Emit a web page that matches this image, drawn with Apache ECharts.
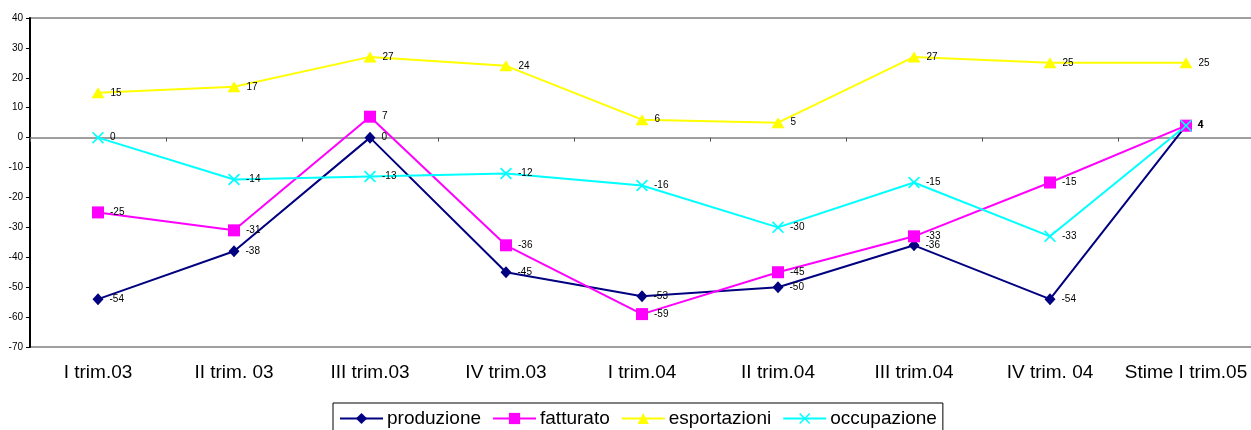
<!DOCTYPE html>
<html>
<head>
<meta charset="utf-8">
<script src="https://cdn.jsdelivr.net/npm/echarts@6/dist/echarts.min.js"></script>
<style>
  html, body { margin: 0; padding: 0; background: #fff; }
  #chart { width: 1251px; height: 430px; }
</style>
</head>
<body>
<div id="chart"></div>
<script>
// Quarterly survey balances (percentage points)
const categories = ['I trim.03', 'II trim. 03', 'III trim.03', 'IV trim.03', 'I trim.04', 'II trim.04', 'III trim.04', 'IV trim. 04', 'Stime I trim.05'];
const produzione = [-54, -38, 0, -45, -53, -50, -36, -54, 4];
const fatturato = [-25, -31, 7, -36, -59, -45, -33, -15, 4];
const esportazioni = [15, 17, 27, 24, 6, 5, 27, 25, 25];
const occupazione = [0, -14, -13, -12, -16, -30, -15, -33, 4];
const yTicks = { min: -70, max: 40, step: 10 };

const FONT = 'Arial, "Liberation Sans", sans-serif';
// thin "x" marker
const crossSymbol = 'path://M0,1 L1,0 L5,4 L9,0 L10,1 L6,5 L10,9 L9,10 L5,6 L1,10 L0,9 L4,5 Z';

function lineSeries(name, data, color, symbol, size) {
  return {
    name: name,
    type: 'line',
    data: data,
    xAxisIndex: 0,
    symbol: symbol,
    symbolSize: size,
    showAllSymbol: true,
    lineStyle: { color: color, width: 2 },
    itemStyle: { color: color },
    label: {
      show: true,
      position: 'right',
      distance: 6,
      color: '#000',
      fontSize: 10,
      fontFamily: FONT
    },
    emphasis: { disabled: true },
    animation: false
  };
}

const chart = echarts.init(document.getElementById('chart'));
chart.setOption({
  animation: false,
  backgroundColor: '#fff',
  grid: {
    left: 30, top: 18, width: 1224, height: 329,
    outerBoundsMode: 'none',
    containLabel: false,
    show: true, borderColor: '#808080', borderWidth: 1.5, backgroundColor: 'transparent'
  },
  legend: {
    left: 333, top: 403,
    padding: [6, 6, 6, 6],
    borderColor: '#000', borderWidth: 1,
    itemWidth: 43, itemHeight: 14, itemGap: 11,
    textStyle: { fontSize: 19, color: '#000', fontFamily: FONT, padding: [2, 0, 0, -1] },
    data: ['produzione', 'fatturato', 'esportazioni', 'occupazione']
  },
  xAxis: [
    {
      // axis crossing at zero, ticks between categories
      type: 'category', data: categories, position: 'top', boundaryGap: true,
      axisLine: { onZero: true, lineStyle: { color: '#808080', width: 1.5 } },
      axisTick: { show: true, inside: true, length: 4, interval: 0, lineStyle: { color: '#555' } },
      axisLabel: { show: false },
      splitLine: { show: false }
    },
    {
      // category labels along the bottom edge
      type: 'category', data: categories, position: 'bottom', boundaryGap: true,
      axisLine: { show: false, onZero: false },
      axisTick: { show: false },
      axisLabel: { show: true, interval: 0, margin: 16, fontSize: 19, color: '#000', fontFamily: FONT },
      splitLine: { show: false }
    }
  ],
  yAxis: {
    type: 'value', min: yTicks.min, max: yTicks.max, interval: yTicks.step,
    axisLine: { show: true, onZero: false, lineStyle: { color: '#000', width: 2 } },
    axisTick: { show: true, length: 4, lineStyle: { color: '#000' } },
    axisLabel: { fontSize: 10, color: '#000', margin: 7, fontFamily: FONT },
    splitLine: { show: false }
  },
  series: [
    lineSeries('produzione', produzione, '#000080', 'diamond', [11, 12]),
    lineSeries('fatturato', fatturato, '#FF00FF', 'rect', 12),
    lineSeries('esportazioni', esportazioni, '#FFFF00', 'triangle', [13, 11]),
    lineSeries('occupazione', occupazione, '#00FFFF', crossSymbol, 12)
  ]
});
</script>
</body>
</html>
